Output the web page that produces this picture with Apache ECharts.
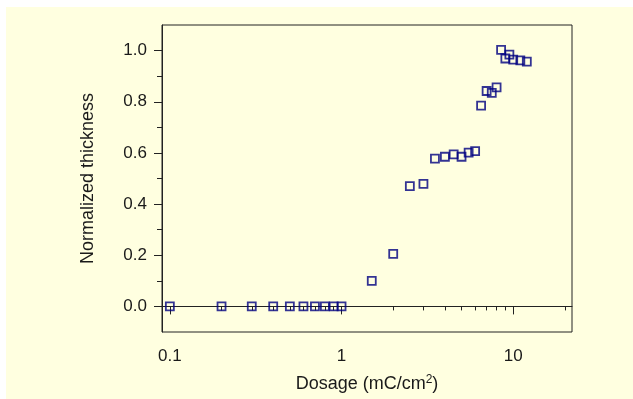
<!DOCTYPE html>
<html>
<head>
<meta charset="utf-8">
<script src="https://cdn.jsdelivr.net/npm/echarts@6/dist/echarts.min.js"></script>
<style>
  html, body { margin: 0; padding: 0; background: #ffffff; }
  #wrap { position: relative; width: 633px; height: 399px; background: #ffffff; }
  #chart { position: absolute; left: 6px; top: 7px; width: 627px; height: 392px; }
</style>
</head>
<body>
<div id="wrap"><div id="chart"></div></div>
<script>
  // dosage (mC/cm2) and normalized thickness
  var dosage = [0.1, 0.2, 0.3, 0.4, 0.5, 0.6, 0.7, 0.8, 0.9, 1.0,
                1.5, 2.0, 2.5, 3.0, 3.5, 4.0, 4.5, 5.0, 5.5, 6.0,
                6.5, 7.0, 7.5, 8.0, 8.5, 9.0, 9.5, 10, 11, 12];
  var thickness = [0, 0, 0, 0, 0, 0, 0, 0, 0, 0,
                   0.10, 0.205, 0.470, 0.479, 0.578, 0.585, 0.594, 0.585, 0.601, 0.607,
                   0.785, 0.842, 0.835, 0.856, 1.003, 0.969, 0.984, 0.965, 0.962, 0.957];

  // tick marks
  var xMajor = [0.1, 1, 10];
  var xMinor = [0.2, 0.3, 0.4, 0.5, 0.6, 0.7, 0.8, 0.9, 2, 3, 4, 5, 6, 7, 8, 9, 20];
  var yMajor = [0, 0.2, 0.4, 0.6, 0.8, 1.0];
  var yMinor = [0.1, 0.3, 0.5, 0.7, 0.9];

  var pts = [];
  for (var i = 0; i < dosage.length; i++) {
    pts.push([dosage[i], thickness[i]]);
  }

  var font = 'Liberation Sans';
  var ink = '#1a1a1a';

  var myChart = echarts.init(document.getElementById('chart'));
  myChart.setOption({
    backgroundColor: '#ffffe0',
    animation: false,
    grid: {
      left: 156, right: 61, top: 18, bottom: 66,
      show: true, borderColor: '#222', borderWidth: 1
    },
    xAxis: [
      {
        type: 'log', min: 0.09, max: 22, position: 'bottom',
        name: 'Dosage (mC/cm{sup|2})', nameLocation: 'middle', nameGap: 42,
        nameTextStyle: {
          fontFamily: font, fontSize: 18, color: ink, lineHeight: 20,
          rich: { sup: { fontFamily: font, fontSize: 12, color: ink, verticalAlign: 'top', lineHeight: 12 } }
        },
        axisLine: { show: true, lineStyle: { color: '#222', width: 1 } },
        axisTick: { show: true, inside: false, length: 8, customValues: xMajor, lineStyle: { color: '#222' } },
        axisLabel: {
          customValues: xMajor, margin: 16, fontFamily: font, fontSize: 17, color: ink,
          formatter: function (v) { return String(v); }
        },
        splitLine: { show: false }
      },
      {
        type: 'log', min: 0.09, max: 22, position: 'bottom',
        axisLine: { show: false },
        axisTick: { show: true, inside: false, length: 4, customValues: xMinor, lineStyle: { color: '#222' } },
        axisLabel: { show: false },
        splitLine: { show: false }
      }
    ],
    yAxis: [
      {
        type: 'value', min: -0.1, max: 1.1, position: 'left',
        name: 'Normalized thickness', nameLocation: 'middle', nameGap: 65,
        nameTextStyle: { fontFamily: font, fontSize: 18, color: ink },
        axisLine: { show: true, lineStyle: { color: '#222', width: 1 } },
        axisTick: { show: true, inside: false, length: 8, customValues: yMajor, lineStyle: { color: '#222' } },
        axisLabel: {
          customValues: yMajor, margin: 15, fontFamily: font, fontSize: 17, color: ink,
          formatter: function (v) { return v.toFixed(1); }
        },
        splitLine: { show: false }
      },
      {
        type: 'value', min: -0.1, max: 1.1, position: 'left', offset: 0,
        axisLine: { show: false },
        axisTick: { show: true, inside: false, length: 5, customValues: yMinor, lineStyle: { color: '#222' } },
        axisLabel: { show: false },
        splitLine: { show: false }
      }
    ],
    series: [
      {
        type: 'scatter',
        xAxisIndex: 0, yAxisIndex: 0,
        data: pts,
        symbol: 'rect',
        symbolSize: 8,
        itemStyle: { color: 'transparent', borderColor: '#000080', borderWidth: 1.8 }
      }
    ]
  });
</script>
</body>
</html>
